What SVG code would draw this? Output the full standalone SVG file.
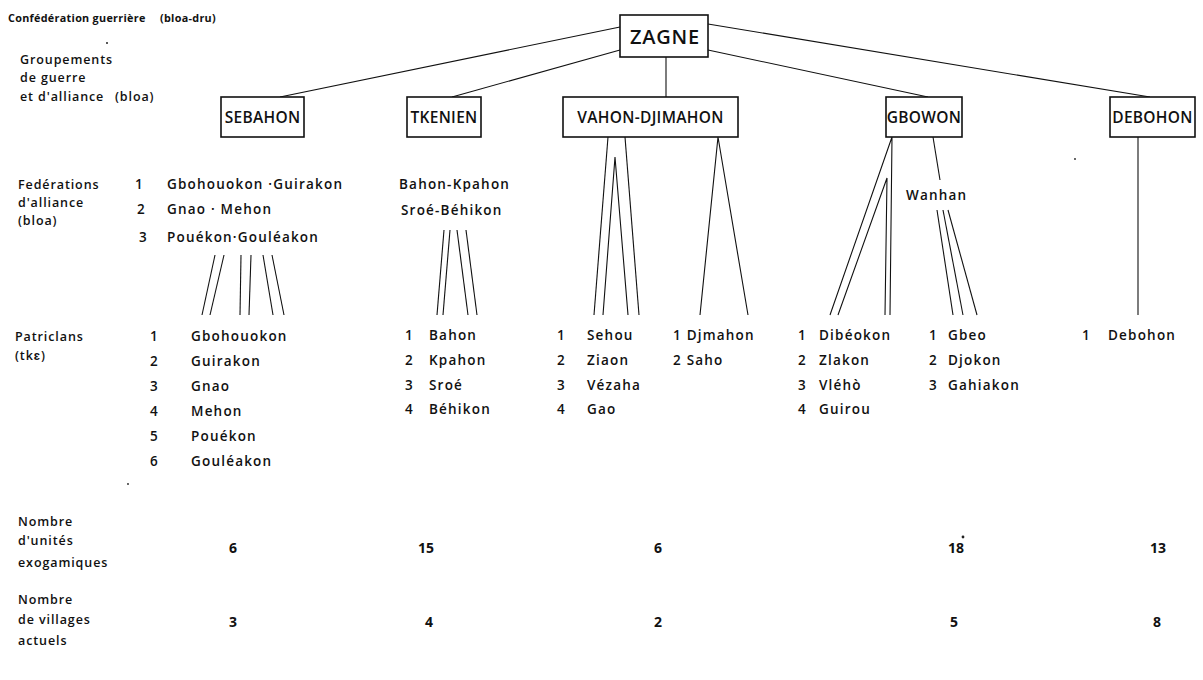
<svg xmlns="http://www.w3.org/2000/svg" width="1203" height="680" viewBox="0 0 1203 680">
  <style>
    text { font-family: "Open Sans", "Liberation Sans", sans-serif; fill: #111; }
    .title { font-size: 10.8px; font-weight: 700; letter-spacing: 0.3px; }
    .lbl { font-size: 12.5px; font-weight: 600; letter-spacing: 0.9px; }
    .item { font-size: 13.5px; font-weight: 600; letter-spacing: 1.2px; }
    .big { font-size: 14px; font-weight: 700; }
    .boxlbl { font-size: 15.5px; font-weight: 600; letter-spacing: 0.3px; text-anchor: middle; }
    .top { font-size: 20px; font-weight: 600; letter-spacing: 0.8px; text-anchor: middle; }
    .box { fill: #fff; stroke: #111; stroke-width: 1.6; }
    .ln { stroke: #111; stroke-width: 1.1; fill: none; }
    .dot { fill: #222; }
  </style>

  <!-- row headings -->
  <g id="headings">
    <text class="title" x="8" y="22">Confédération guerrière</text>
    <text class="title" x="160" y="22">(bloa-dru)</text>
    <text class="lbl" x="20" y="64">Groupements</text>
    <text class="lbl" x="20" y="82">de guerre</text>
    <text class="lbl" x="20" y="101">et d'alliance</text>
    <text class="lbl" x="115" y="101">(bloa)</text>
    <text class="lbl" x="18" y="189">Fedérations</text>
    <text class="lbl" x="18" y="207">d'alliance</text>
    <text class="lbl" x="18" y="225">(bloa)</text>
    <text class="lbl" x="15" y="341">Patriclans</text>
    <text class="lbl" x="15" y="360">(tkɛ)</text>
    <text class="lbl" x="18" y="526">Nombre</text>
    <text class="lbl" x="18" y="545">d'unités</text>
    <text class="lbl" x="18" y="567">exogamiques</text>
    <text class="lbl" x="18" y="604">Nombre</text>
    <text class="lbl" x="18" y="624">de villages</text>
    <text class="lbl" x="18" y="645">actuels</text>
  </g>

  <!-- connectors -->
  <g id="connectors">
    <!-- confederation to groupings -->
    <line class="ln" x1="620" y1="27" x2="280" y2="97"/>
    <line class="ln" x1="620" y1="50" x2="452" y2="97"/>
    <line class="ln" x1="666" y1="57" x2="666" y2="97"/>
    <line class="ln" x1="708" y1="50" x2="928" y2="97"/>
    <line class="ln" x1="708" y1="24" x2="1150" y2="97"/>
    <!-- SEBAHON federations to patriclans -->
    <line class="ln" x1="215" y1="255" x2="202" y2="315"/>
    <line class="ln" x1="224" y1="255" x2="210" y2="315"/>
    <line class="ln" x1="241" y1="255" x2="240" y2="315"/>
    <line class="ln" x1="251" y1="255" x2="249" y2="315"/>
    <line class="ln" x1="263" y1="255" x2="273" y2="315"/>
    <line class="ln" x1="272" y1="255" x2="284" y2="315"/>
    <!-- TKENIEN federations to patriclans -->
    <line class="ln" x1="444" y1="230" x2="437" y2="315"/>
    <line class="ln" x1="450" y1="230" x2="443" y2="315"/>
    <line class="ln" x1="457" y1="230" x2="468" y2="315"/>
    <line class="ln" x1="466" y1="230" x2="477" y2="315"/>
    <!-- VAHON-DJIMAHON -->
    <line class="ln" x1="608" y1="137" x2="594" y2="315"/>
    <polyline class="ln" points="603,315 615,157 628,315"/>
    <line class="ln" x1="625" y1="137" x2="639" y2="315"/>
    <polyline class="ln" points="700,315 718,137 748,315"/>
    <!-- GBOWON -->
    <polyline class="ln" points="830,315 892,137 890,315"/>
    <polyline class="ln" points="838,315 887,178 885,315"/>
    <line class="ln" x1="933" y1="137" x2="940" y2="180"/>
    <line class="ln" x1="937" y1="210" x2="953" y2="315"/>
    <line class="ln" x1="943" y1="210" x2="963" y2="315"/>
    <line class="ln" x1="948" y1="210" x2="977" y2="315"/>
    <!-- DEBOHON -->
    <line class="ln" x1="1138" y1="137" x2="1138" y2="315"/>
  </g>

  <!-- confederation -->
  <g id="zagne">
    <rect class="box" x="620" y="15" width="88" height="42"/>
    <text class="top" x="665" y="44">ZAGNE</text>
  </g>

  <!-- war and alliance groupings -->
  <g id="sebahon">
    <rect class="box" x="221" y="97" width="83" height="40"/>
    <text class="boxlbl" x="262.5" y="123">SEBAHON</text>
    <text class="item" x="135" y="189">1</text>
    <text class="item" x="167" y="189">Gbohouokon ·Guirakon</text>
    <text class="item" x="137" y="214">2</text>
    <text class="item" x="167" y="214">Gnao · Mehon</text>
    <text class="item" x="139" y="242">3</text>
    <text class="item" x="167" y="242">Pouékon·Gouléakon</text>
    <text class="item" x="150" y="341">1</text>
    <text class="item" x="191" y="341">Gbohouokon</text>
    <text class="item" x="150" y="366">2</text>
    <text class="item" x="191" y="366">Guirakon</text>
    <text class="item" x="150" y="391">3</text>
    <text class="item" x="191" y="391">Gnao</text>
    <text class="item" x="150" y="416">4</text>
    <text class="item" x="191" y="416">Mehon</text>
    <text class="item" x="150" y="441">5</text>
    <text class="item" x="191" y="441">Pouékon</text>
    <text class="item" x="150" y="466">6</text>
    <text class="item" x="191" y="466">Gouléakon</text>
    <text class="big" x="229" y="553">6</text>
    <text class="big" x="229" y="627">3</text>
  </g>

  <g id="tkenien">
    <rect class="box" x="407" y="97" width="74" height="40"/>
    <text class="boxlbl" x="444" y="123">TKENIEN</text>
    <text class="item" x="399" y="189">Bahon-Kpahon</text>
    <text class="item" x="401" y="215">Sroé-Béhikon</text>
    <text class="item" x="405" y="340">1</text>
    <text class="item" x="429" y="340">Bahon</text>
    <text class="item" x="405" y="365">2</text>
    <text class="item" x="429" y="365">Kpahon</text>
    <text class="item" x="405" y="390">3</text>
    <text class="item" x="429" y="390">Sroé</text>
    <text class="item" x="405" y="414">4</text>
    <text class="item" x="429" y="414">Béhikon</text>
    <text class="big" x="418" y="553">15</text>
    <text class="big" x="425" y="627">4</text>
  </g>

  <g id="vahon-djimahon">
    <rect class="box" x="563" y="97" width="175" height="40"/>
    <text class="boxlbl" x="650.5" y="123">VAHON-DJIMAHON</text>
    <text class="item" x="557" y="340">1</text>
    <text class="item" x="587" y="340">Sehou</text>
    <text class="item" x="557" y="365">2</text>
    <text class="item" x="587" y="365">Ziaon</text>
    <text class="item" x="557" y="390">3</text>
    <text class="item" x="587" y="390">Vézaha</text>
    <text class="item" x="557" y="414">4</text>
    <text class="item" x="587" y="414">Gao</text>
    <text class="item" x="673" y="340">1 Djmahon</text>
    <text class="item" x="673" y="365">2 Saho</text>
    <text class="big" x="654" y="553">6</text>
    <text class="big" x="654" y="627">2</text>
  </g>

  <g id="gbowon">
    <rect class="box" x="886" y="97" width="76" height="40"/>
    <text class="boxlbl" x="924" y="123">GBOWON</text>
    <text class="item" x="906" y="200">Wanhan</text>
    <text class="item" x="798" y="340">1</text>
    <text class="item" x="819" y="340">Dibéokon</text>
    <text class="item" x="798" y="365">2</text>
    <text class="item" x="819" y="365">Zlakon</text>
    <text class="item" x="798" y="390">3</text>
    <text class="item" x="819" y="390">Vléhò</text>
    <text class="item" x="798" y="414">4</text>
    <text class="item" x="819" y="414">Guirou</text>
    <text class="item" x="929" y="340">1</text>
    <text class="item" x="948" y="340">Gbeo</text>
    <text class="item" x="929" y="365">2</text>
    <text class="item" x="948" y="365">Djokon</text>
    <text class="item" x="929" y="390">3</text>
    <text class="item" x="948" y="390">Gahiakon</text>
    <text class="big" x="948" y="553">18</text>
    <text class="big" x="950" y="627">5</text>
  </g>

  <g id="debohon">
    <rect class="box" x="1110" y="97" width="85" height="40"/>
    <text class="boxlbl" x="1152.5" y="123">DEBOHON</text>
    <text class="item" x="1082" y="340">1</text>
    <text class="item" x="1108" y="340">Debohon</text>
    <text class="big" x="1150" y="553">13</text>
    <text class="big" x="1153" y="627">8</text>
  </g>

  <!-- stray specks in the print -->
  <g id="specks">
    <circle class="dot" cx="107" cy="43" r="1"/>
    <circle class="dot" cx="1075" cy="159" r="0.9"/>
    <circle class="dot" cx="128" cy="484" r="0.9"/>
    <circle class="dot" cx="963" cy="537" r="1.4"/>
  </g>
</svg>
